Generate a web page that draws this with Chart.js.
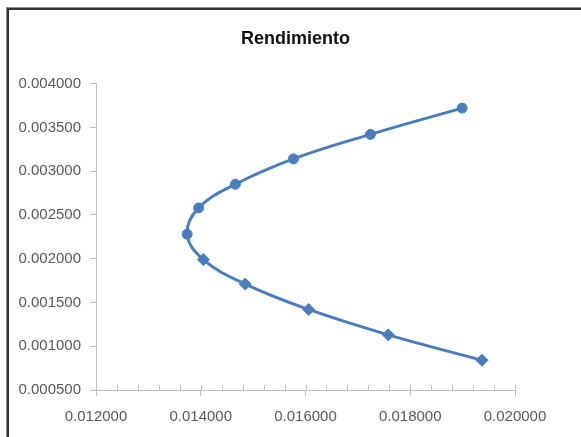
<!DOCTYPE html>
<html>
<head>
<meta charset="utf-8">
<script src="https://cdn.jsdelivr.net/npm/chart.js@4"></script>
<style>
  html, body { margin: 0; padding: 0; background: #ffffff; }
  #wrap { position: relative; width: 581px; height: 437px; overflow: hidden; }
  #frame { position: absolute; left: 7px; top: 8px; width: 700px; height: 600px;
           border-left: 2px solid #333333; border-top: 2px solid #333333; box-shadow: -1px -1px 0 #8a8a8a; }
  canvas { position: absolute; left: 0; top: 0; }
</style>
</head>
<body>
<div id="wrap">
  <div id="frame"></div>
  <canvas id="c" width="581" height="437"></canvas>
</div>
<script>
// Upper branch (circle markers), from top-right down to the vertex
const upperX = [0.01899, 0.01724, 0.01577, 0.01466, 0.01396, 0.01374];
const upperY = [0.00372, 0.00342, 0.00314, 0.00285, 0.00258, 0.00228];
// Lower branch (diamond markers), from the vertex down to bottom-right
const lowerX = [0.01405, 0.01485, 0.01606, 0.01758, 0.01937];
const lowerY = [0.00199, 0.00171, 0.00142, 0.00113, 0.00084];

const chartTitle = 'Rendimiento';
const xTicks = [0.012, 0.014, 0.016, 0.018, 0.020];
const yTicks = [0.0005, 0.001, 0.0015, 0.002, 0.0025, 0.003, 0.0035, 0.004];

const points = upperX.map((x, i) => ({ x: x, y: upperY[i] }))
  .concat(lowerX.map((x, i) => ({ x: x, y: lowerY[i] })));
const styles = upperX.map(() => 'circle').concat(lowerX.map(() => 'rectRot'));
const radii = upperX.map(() => 5).concat(lowerX.map(() => 6));

const axisColor = '#bfbfbf';
const lineColor = '#4a7ebb';
const tickFont = { family: 'Liberation Sans, Arial, sans-serif', size: 15 };

const innerTicks = {
  id: 'innerTicks',
  afterDraw(chart) {
    const xs = chart.scales.x;
    const ctx = chart.ctx;
    const y0 = xs.top;
    ctx.save();
    ctx.strokeStyle = axisColor;
    ctx.lineWidth = 1;
    ctx.beginPath();
    for (let k = 0; k <= 20; k++) {
      const v = xTicks[0] + k * 0.0004;
      const px = Math.round(xs.getPixelForValue(v)) + 0.5;
      ctx.moveTo(px, y0);
      ctx.lineTo(px, y0 - 5);
    }
    ctx.stroke();
    ctx.restore();
  }
};

new Chart(document.getElementById('c'), {
  type: 'scatter',
  data: {
    datasets: [{
      data: points,
      showLine: true,
      tension: 0.4,
      borderColor: lineColor,
      backgroundColor: lineColor,
      borderWidth: 3,
      pointStyle: styles,
      pointRadius: radii,
      pointBorderWidth: 1,
      pointBorderColor: lineColor,
      pointBackgroundColor: lineColor
    }]
  },
  options: {
    responsive: false,
    animation: false,
    layout: { padding: { left: 10, right: 0, top: 0, bottom: 0 } },
    plugins: {
      legend: { display: false },
      tooltip: { enabled: false },
      title: {
        display: true,
        text: chartTitle,
        color: '#111111',
        font: { family: 'Liberation Sans, Arial, sans-serif', size: 18, weight: 'bold' },
        padding: { top: 28, bottom: 34 }
      }
    },
    scales: {
      x: {
        type: 'linear',
        min: 0.012,
        max: 0.020,
        afterBuildTicks: (s) => { s.ticks = xTicks.map(v => ({ value: v })); },
        afterFit: (s) => { s.height = 47; },
        ticks: {
          color: '#595959',
          font: tickFont,
          padding: 12,
          maxRotation: 0,
          callback: (v) => Number(v).toFixed(6)
        },
        grid: { drawOnChartArea: false, drawTicks: true, tickLength: 6, color: axisColor },
        border: { color: axisColor, width: 1 }
      },
      y: {
        type: 'linear',
        min: 0.0005,
        max: 0.004,
        afterBuildTicks: (s) => { s.ticks = yTicks.map(v => ({ value: v })); },
        afterFit: (s) => { s.width = 86; },
        ticks: {
          color: '#595959',
          font: tickFont,
          padding: 9,
          callback: (v) => Number(v).toFixed(6)
        },
        grid: { drawOnChartArea: false, drawTicks: true, tickLength: 6, color: axisColor },
        border: { color: axisColor, width: 1 }
      },
      yRight: {
        type: 'linear',
        position: 'right',
        display: true,
        afterFit: (s) => { s.width = 66; },
        ticks: { display: false },
        grid: { display: false, drawTicks: false },
        border: { display: false }
      }
    }
  },
  plugins: [innerTicks]
});
</script>
</body>
</html>
